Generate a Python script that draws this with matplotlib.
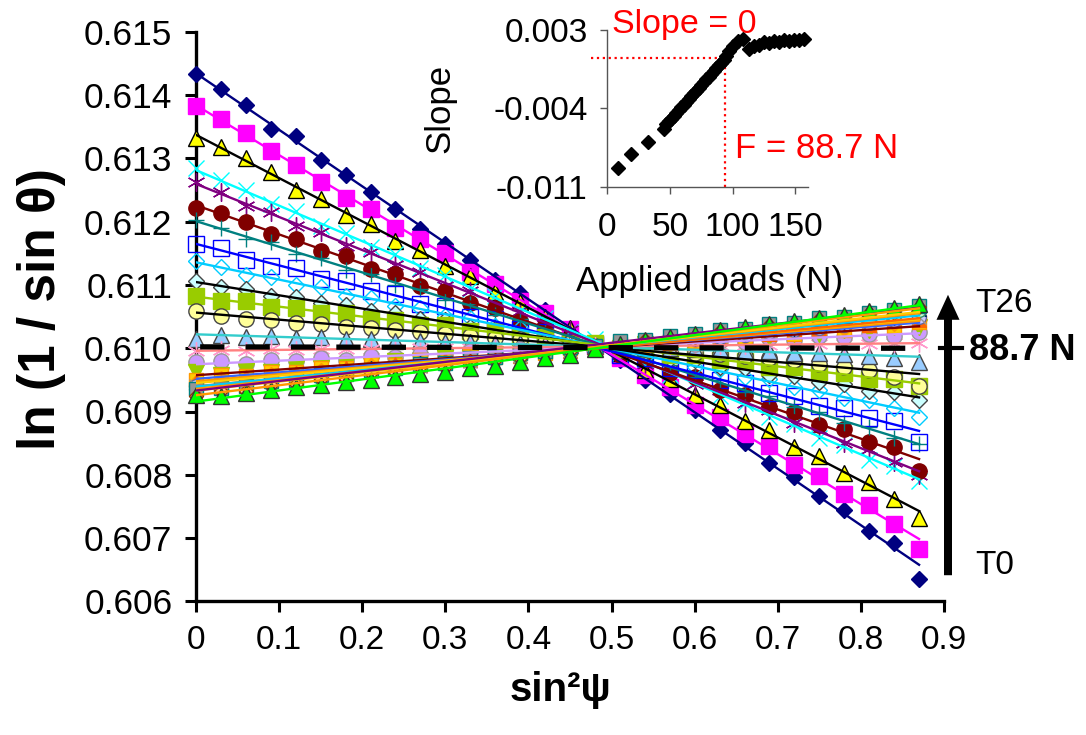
import matplotlib
matplotlib.use("Agg")
import matplotlib.pyplot as plt
import numpy as np
from matplotlib.patches import FancyArrowPatch
from matplotlib.lines import Line2D

plt.rcParams['font.family'] = ['Liberation Sans', 'DejaVu Sans']

# sin^2(psi) positions
sin2psi = [0.00, 0.03, 0.06, 0.09, 0.12, 0.15, 0.18, 0.21, 0.24, 0.27,
           0.30, 0.33, 0.36, 0.39, 0.42, 0.45, 0.48, 0.51, 0.54, 0.57,
           0.60, 0.63, 0.66, 0.69, 0.72, 0.75, 0.78, 0.81, 0.84, 0.87]

# ln(1/sin theta), in units of 1e-5 above 0.600
T0 = [1433, 1410, 1384, 1346, 1335, 1298, 1274, 1247, 1220, 1188, 1165, 1140, 1108, 1087, 1060,
      1030, 1008, 982, 950, 928, 902, 871, 850, 818, 797, 766, 745, 712, 692, 636]
T1 = [1383, 1362, 1340, 1312, 1290, 1262, 1238, 1220, 1190, 1172, 1150, 1120, 1102, 1074, 1055,
      1030, 1004, 985, 957, 938, 910, 892, 864, 845, 816, 798, 770, 752, 722, 683]
T2 = [1332, 1318, 1300, 1278, 1250, 1236, 1210, 1196, 1170, 1155, 1130, 1114, 1088, 1073, 1049,
      1032, 1008, 992, 966, 951, 926, 910, 885, 870, 844, 829, 803, 789, 762, 731]
T3 = [1284, 1266, 1250, 1228, 1216, 1193, 1182, 1160, 1149, 1126, 1115, 1093, 1082, 1059, 1048,
      1026, 1015, 992, 981, 958, 948, 925, 914, 891, 881, 858, 847, 824, 814, 790]
T4 = [1262, 1246, 1224, 1215, 1193, 1184, 1162, 1152, 1131, 1121, 1099, 1090, 1068, 1059, 1037,
      1028, 1006, 997, 975, 966, 944, 934, 913, 903, 882, 872, 851, 841, 820, 800]
T5 = [1222, 1214, 1200, 1180, 1172, 1154, 1146, 1125, 1118, 1098, 1090, 1071, 1063, 1043, 1036,
      1016, 1008, 989, 981, 961, 954, 934, 926, 907, 899, 879, 872, 852, 844, 806]
T6 = [1203, 1190, 1173, 1167, 1149, 1143, 1124, 1118, 1100, 1094, 1076, 1070, 1052, 1046, 1028,
      1021, 1003, 997, 979, 973, 955, 949, 931, 925, 907, 900, 882, 876, 858, 848]
T7 = [1165, 1158, 1140, 1130, 1126, 1110, 1106, 1090, 1086, 1070, 1066, 1050, 1046, 1030, 1026,
      1010, 1006, 989, 985, 969, 965, 949, 945, 929, 925, 909, 905, 889, 885, 852]
T8 = [1138, 1129, 1116, 1113, 1100, 1096, 1083, 1080, 1067, 1064, 1051, 1048, 1035, 1032, 1019,
      1015, 1002, 999, 986, 983, 970, 967, 954, 951, 938, 934, 921, 918, 905, 892]
T9 = [1106, 1096, 1094, 1083, 1081, 1071, 1069, 1058, 1056, 1046, 1044, 1033, 1031, 1021, 1019,
      1008, 1006, 996, 994, 983, 981, 971, 969, 958, 956, 946, 944, 933, 931, 918]
T10 = [1083, 1074, 1074, 1065, 1064, 1056, 1055, 1046, 1045, 1037, 1036, 1027, 1027, 1018, 1017,
       1009, 1008, 999, 999, 990, 989, 981, 980, 971, 970, 962, 961, 952, 952, 940]
T11 = [1059, 1051, 1046, 1044, 1040, 1038, 1034, 1032, 1028, 1026, 1022, 1020, 1016, 1014, 1010,
       1008, 1004, 1002, 999, 997, 993, 991, 987, 985, 981, 975, 970, 965, 955, 940]
T12 = [1014, 1021, 1018, 1019, 1016, 1017, 1014, 1015, 1012, 1012, 1010, 1010, 1008, 1008, 1006,
       1005, 1003, 1003, 1001, 1000, 998, 998, 996, 995, 993, 993, 991, 988, 985, 978]
T13 = [1002, 1002, 1002, 1002, 1002, 1002, 1002, 1002, 1001, 1001, 1001, 1001, 1001, 1001, 1001,
       1001, 1001, 1001, 1001, 1001, 1001, 1001, 1000, 1000, 1000, 1000, 1000, 1000, 1000, 1000]
T14 = [996, 997, 996, 998, 997, 998, 998, 999, 999, 1000, 1000, 1001, 1001, 1001, 1002,
       1002, 1003, 1003, 1003, 1004, 1004, 1005, 1005, 1005, 1006, 1006, 1007, 1007, 1008, 1008]
T15 = [978, 979, 975, 981, 979, 985, 982, 988, 986, 991, 989, 995, 993, 998, 996,
       1002, 999, 1005, 1003, 1009, 1006, 1012, 1010, 1016, 1013, 1019, 1017, 1022, 1020, 1026]
T16 = [962, 958, 964, 963, 969, 969, 974, 974, 980, 979, 985, 985, 991, 990, 996,
       996, 1001, 1001, 1007, 1007, 1012, 1012, 1018, 1018, 1023, 1023, 1029, 1028, 1034, 1033]
T17 = [950, 957, 956, 963, 962, 969, 968, 975, 974, 981, 980, 987, 986, 993, 992,
       1000, 999, 1006, 1005, 1012, 1011, 1018, 1017, 1024, 1023, 1030, 1029, 1036, 1035, 1042]
T18 = [946, 953, 953, 960, 959, 966, 966, 973, 972, 980, 979, 986, 985, 993, 992,
       999, 998, 1006, 1005, 1012, 1012, 1019, 1018, 1025, 1025, 1032, 1031, 1039, 1038, 1045]
T19 = [947, 946, 954, 953, 961, 960, 968, 967, 975, 974, 982, 981, 989, 988, 996,
       995, 1003, 1002, 1010, 1009, 1017, 1016, 1024, 1023, 1031, 1030, 1038, 1037, 1045, 1044]
T20 = [940, 944, 947, 951, 955, 958, 962, 966, 970, 973, 977, 981, 984, 988, 992,
       995, 999, 1003, 1006, 1010, 1014, 1017, 1021, 1025, 1029, 1032, 1036, 1040, 1044, 1049]
T21 = [941, 941, 949, 949, 957, 957, 964, 964, 972, 972, 980, 980, 988, 988, 996,
       996, 1003, 1003, 1011, 1011, 1019, 1019, 1027, 1027, 1035, 1035, 1042, 1042, 1050, 1050]
T22 = [934, 942, 942, 950, 950, 959, 959, 967, 967, 975, 975, 983, 983, 991, 991,
       1000, 1000, 1008, 1008, 1016, 1016, 1024, 1024, 1032, 1032, 1041, 1041, 1049, 1049, 1057]
T23 = [936, 935, 944, 944, 952, 953, 957, 965, 965, 974, 974, 982, 983, 987, 995,
       996, 1000, 1008, 1009, 1013, 1021, 1022, 1026, 1034, 1034, 1039, 1047, 1047, 1052, 1060]
T24 = [936, 937, 941, 948, 950, 957, 959, 966, 968, 975, 977, 984, 986, 993, 995,
       1002, 1004, 1011, 1013, 1020, 1022, 1029, 1031, 1038, 1040, 1047, 1050, 1056, 1061, 1066]
T25 = [924, 933, 933, 942, 943, 952, 952, 961, 962, 971, 971, 980, 981, 985, 994,
       995, 1004, 1004, 1013, 1014, 1018, 1027, 1028, 1037, 1037, 1046, 1047, 1056, 1056, 1065]
T26 = [926, 925, 930, 934, 938, 942, 946, 950, 955, 959, 963, 968, 972, 978, 984,
       990, 998, 1007, 1013, 1018, 1023, 1028, 1033, 1038, 1043, 1048, 1053, 1058, 1063, 1070]

series = [T0, T1, T2, T3, T4, T5, T6, T7, T8, T9, T10, T11, T12, T13,
          T14, T15, T16, T17, T18, T19, T20, T21, T22, T23, T24, T25, T26]

# inset: slope vs applied load
loads = [9, 19, 33, 45, 47, 49, 51, 53, 55, 57, 59, 61, 63, 65, 67, 69, 71, 73, 75, 77,
         79, 81, 83, 85, 87, 89, 91, 93, 95, 97, 100, 104, 108, 113, 117, 121, 125, 129,
         133, 137, 141, 145, 149, 153, 157]
slopes = [-0.0098, -0.0086, -0.0075, -0.0063, -0.0059, -0.00565, -0.0054, -0.00515, -0.0049,
          -0.00465, -0.0044, -0.00415, -0.0039, -0.00365, -0.0034, -0.00315, -0.0029, -0.00265,
          -0.0024, -0.00215, -0.0019, -0.00165, -0.0014, -0.00115, -0.0009, -0.00065, -0.0004,
          -0.00015, 0.0002, 0.0006, 0.0011, 0.0015, 0.0017, 0.0008, 0.0011, 0.0012, 0.0014,
          0.0013, 0.0015, 0.0014, 0.0016, 0.0015, 0.0016, 0.0016, 0.0017]

AST = (6, 2, 0)
# marker, face, edge, size, trendline colour
styles = [
    ('D', '#000080', '#000080', 8.5, '#000080'),
    ('s', '#FF00FF', '#FF00FF', 11, '#FF00FF'),
    ('^', '#FFFF00', '#000000', 12, '#000000'),
    ('x', '#00FFFF', '#00FFFF', 11, '#00FFFF'),
    (AST, '#800080', '#800080', 13, '#800080'),
    ('o', '#800000', '#800000', 11, '#800000'),
    ('+', '#008080', '#008080', 12, '#008080'),
    ('s', 'none', '#0000FF', 11, '#0000FF'),
    ('D', 'none', '#00CCFF', 8, '#00CCFF'),
    ('D', '#CCFFFF', '#444444', 8, '#000000'),
    ('s', '#99CC00', '#99CC00', 11, '#99CC00'),
    ('o', '#FFFF99', '#444444', 11, '#000000'),
    ('^', '#99CCFF', '#444444', 12, '#33CCCC'),
    (None, 'none', 'none', 0, '#000000'),
    (AST, '#FF99CC', '#FF99CC', 13, '#FF8080'),
    ('o', '#CC99FF', '#999999', 11, '#CC99FF'),
    ('v', '#99CC00', '#99CC00', 11, '#800000'),
    ('s', '#FFCC00', '#FF9900', 10, '#3366FF'),
    ('D', '#FF9900', '#FF9900', 7.5, '#FF9900'),
    ('^', '#FF6600', '#FF6600', 10, '#FFCC00'),
    ('o', '#CCCCFF', '#666699', 10, '#FF6600'),
    ('x', '#969696', '#969696', 10, '#00CCFF'),
    (AST, '#003366', '#003366', 12, '#FF9900'),
    ('o', '#CCFFCC', '#339966', 10, '#FFCC00'),
    ('s', '#969696', '#008080', 10, '#800080'),
    ('D', '#FFCC99', '#993300', 7.5, '#FF9900'),
    ('^', '#00FF00', '#333333', 12, '#00FF00'),
]

fig = plt.figure(figsize=(10.86, 7.35), dpi=100)
W, H = 1086.0, 735.0
ax = fig.add_axes([196 / W, 1 - 601.4 / H, (944 - 196) / W, (601.4 - 31.7) / H])

x = np.array(sin2psi)
for vals, (mk, fc, ec, ms, lc) in zip(series, styles):
    y = 0.6 + np.array(vals) * 1e-5
    coef = np.polyfit(x, y, 1)
    xe = np.array([x[0], x[-1]])
    if mk is None:
        ax.plot([0.005, 0.875], np.polyval(coef, [0.005, 0.875]), color=lc, lw=3.8,
                dashes=(4.6, 4.0), solid_capstyle='butt', dash_capstyle='butt', zorder=5)
        continue
    ax.plot(x, y, linestyle='none', marker=mk, ms=ms, mfc=fc, mec=ec, mew=1.0,
            clip_on=False, zorder=3)
    ax.plot(xe, np.polyval(coef, xe), color=lc, lw=1.7, zorder=4)

ax.set_xlim(0, 0.9)
ax.set_ylim(0.606, 0.615)
ax.set_xticks(np.arange(0, 0.91, 0.1))
ax.set_xticklabels(['0'] + ['%.1f' % v for v in np.arange(0.1, 0.91, 0.1)],
                   family=['Liberation Sans Narrow', 'Liberation Sans'], fontsize=24)
ax.set_yticks(np.arange(0.606, 0.6151, 0.001))
ax.set_yticklabels(['%.3f' % v for v in np.arange(0.606, 0.6151, 0.001)], fontsize=25.5)
for s in ['top', 'right']:
    ax.spines[s].set_visible(False)
for s in ['left', 'bottom']:
    ax.spines[s].set_linewidth(2.4)
ax.tick_params(axis='both', direction='out', length=8, width=2.2)
ax.tick_params(axis='y', pad=9)
ax.tick_params(axis='x', pad=9)

fig.text(42 / W, 1 - 309 / H, 'ln (1 / sin \u03b8)', rotation=90, fontsize=37,
         fontweight='bold', ha='center', va='center')
fig.text(560 / W, 1 - 690 / H, 'sin\u00b2\u03c8', fontsize=29, fontweight='bold',
         family=['Liberation Sans Narrow', 'Liberation Sans'], ha='center', va='center')

# arrow T0 -> T26
arrow = FancyArrowPatch((948, H - 578), (948, H - 292), transform=None,
                        arrowstyle='simple,head_length=0.5,head_width=0.46,tail_width=0.16',
                        mutation_scale=36, color='black', lw=0)
fig.patches.append(arrow)
fig.lines.append(Line2D([940, 962], [H - 348, H - 348], transform=None, color='black', lw=3))
fig.text(975 / W, 1 - 303 / H, 'T26', fontsize=24, ha='left', va='center')
fig.text(969 / W, 1 - 350 / H, '88.7 N', fontsize=26, fontweight='bold', ha='left', va='center')
fig.text(975 / W, 1 - 565 / H, 'T0', fontsize=24, ha='left', va='center')

# inset
axi = fig.add_axes([607 / W, 1 - 187 / H, (808 - 607) / W, (187 - 30) / H])
axi.plot(loads, slopes, linestyle='none', marker='D', ms=7.5, color='black', clip_on=False, zorder=3)
axi.set_xlim(0, 160)
axi.set_ylim(-0.0115, 0.0025)
axi.set_xticks([0, 50, 100, 150])
axi.set_yticks([-0.0115, -0.0045, 0.0025])
axi.set_yticklabels(['-0.011', '-0.004', '0.003'])
for s in ['top', 'right']:
    axi.spines[s].set_visible(False)
for s in ['left', 'bottom']:
    axi.spines[s].set_linewidth(1.0)
    axi.spines[s].set_color('#555555')
axi.tick_params(axis='both', direction='out', length=5, width=1.0, color='#555555', labelsize=24)
axi.tick_params(axis='x', pad=13)
axi.tick_params(axis='y', pad=9)
axi.patch.set_alpha(0)
axi.plot([-13, 94], [0, 0], color='red', lw=1.6, linestyle=':', clip_on=False, zorder=2)
axi.plot([94, 94], [-0.0115, 0], color='red', lw=1.6, linestyle=':', clip_on=False, zorder=2)
fig.text(440 / W, 1 - 108 / H, 'Slope', rotation=90, fontsize=25, ha='center', va='center')
fig.text(710 / W, 1 - 282 / H, 'Applied loads (N)', fontsize=25, ha='center', va='center')
fig.text(612 / W, 1 - 25 / H, 'Slope = 0', fontsize=24.5, color='red', ha='left', va='center')
fig.text(735 / W, 1 - 149 / H, 'F = 88.7 N', fontsize=25, color='red', ha='left', va='center')

fig.savefig('out.png', dpi=100)
